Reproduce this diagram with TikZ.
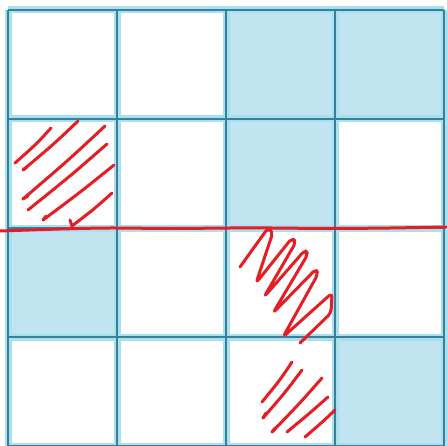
\documentclass[tikz,border=0pt]{standalone}
\usetikzlibrary{calc}
\definecolor{gridblue}{RGB}{55,128,152}
\definecolor{glow}{RGB}{168,224,240}
\definecolor{cellblue}{RGB}{192,228,240}
\definecolor{pen}{RGB}{228,30,36}

\begin{document}
\begin{tikzpicture}[x=1pt,y=-1pt,
  halo/.style={glow,line width=7pt},
  rule/.style={gridblue,line width=2.2pt},
  scribble/.style={pen,line width=3pt,line cap=round,line join=round}]
  \useasboundingbox (0,0) rectangle (446,446);
  \fill[white] (0,0) rectangle (446,446);
  % shaded squares (column/row)
  \foreach \c/\r in {2/0,3/0,2/1,0/2,3/3}
    \fill[cellblue] ({8+109*\c},{10+109*\r}) rectangle ++(109,109);
  % grid
  \foreach \i in {0,...,4} {
    \draw[halo] ({8+109*\i},10) -- ++(0,436);
    \draw[halo] (8,{10+109*\i}) -- ++(436,0);
  }
  \foreach \i in {0,...,4} {
    \draw[rule] ({8+109*\i},10) -- ++(0,436);
    \draw[rule] (8,{10+109*\i}) -- ++(436,0);
  }
  % red line
  \draw[scribble] plot[smooth] coordinates {(0,231) (60,229) (110,228) (170,228.5)
    (230,228) (272,228) (330,228.5) (390,228) (446,227)};
  % hatching, second row
  \foreach \a/\b/\c/\d in {51/128/15/163, 78/121/23/170, 105/126/23/199,
      107/144/28/210, 114/165/43/220, 112/193/72/226}
    \draw[scribble] (\a,\b) .. controls ({(\a+\c)/2+4},{(\b+\d)/2-2}) .. (\c,\d);
  \draw[scribble] (23,170) -- (27,167);
  \draw[scribble] (23,199) -- (28,196);
  \draw[scribble] (43,220) -- (46,216);
  \draw[scribble] (72,226) -- (70,220);
  % hatching, third row
  \draw[scribble,rounded corners=4pt] (240,267) -- (268,228) -- (273,232)
    -- (256,283) -- (292,238) -- (296,242) -- (264,297) -- (305,250) -- (308,254)
    -- (273,313) -- (316,269) -- (318,274) -- (283,337) -- (332,293)
    -- (331,313) -- (300,343);
  % hatching, fourth row
  \foreach \a/\b/\c/\d in {292/362/262/402, 302/370/263/418, 322/378/272/432,
      328/397/287/432, 335/410/305/437}
    \draw[scribble] (\a,\b) .. controls ({(\a+\c)/2+3},{(\b+\d)/2-2}) .. (\c,\d);
  \draw[scribble] (263,418) -- (266,413);
  \draw[scribble] (272,432) -- (275,428);
\end{tikzpicture}
\end{document}
